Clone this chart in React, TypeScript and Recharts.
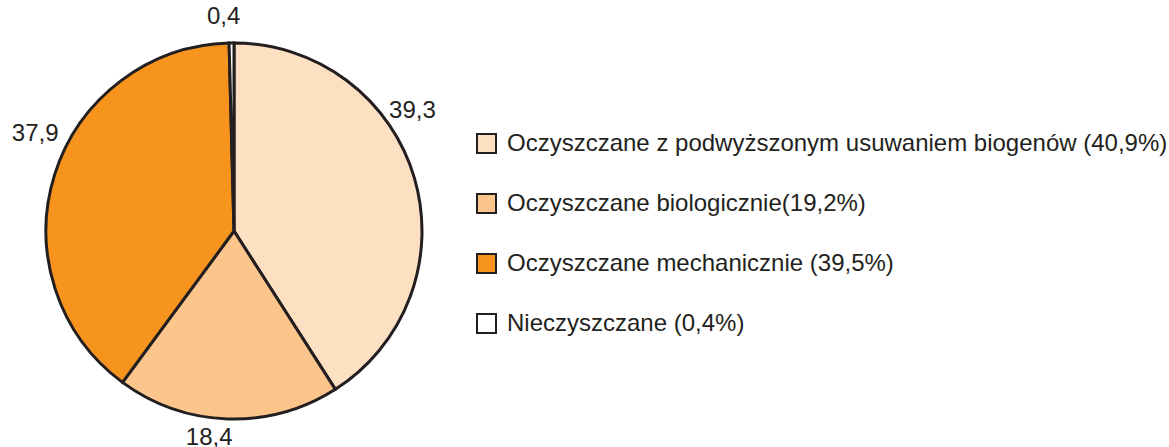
import { Cell, Pie, PieChart } from "recharts";

// share of treated wastewater by method, values as printed next to slices
const categories = [
  "Oczyszczane z podwyższonym usuwaniem biogenów",
  "Oczyszczane biologicznie",
  "Oczyszczane mechanicznie",
  "Nieczyszczane",
];
const sliceValues = [39.3, 18.4, 37.9, 0.4];
const sliceLabels = ["39,3", "18,4", "37,9", "0,4"];
const legendShares = ["(40,9%)", "(19,2%)", "(39,5%)", "(0,4%)"];
const legendGaps = [" ", "", " ", " "];

const colors = ["#FDDFC1", "#FCC58B", "#F7941E", "#FFFFFF"];
const ink = "#231F20";
const font = '"Liberation Sans", Arial, Helvetica, sans-serif';

// label placement tweaks: angle nudge (deg) and distance outside the rim (px)
const labelShift = [18, -5, -9, 2];
const labelGap = [28, 19, 34, 28];

const data = categories.map((name, i) => ({
  name,
  value: sliceValues[i],
  label: sliceLabels[i],
}));

const RAD = Math.PI / 180;

function renderLabel(props: any) {
  const { cx, cy, midAngle, outerRadius, index } = props;
  const a = (midAngle + labelShift[index]) * RAD;
  const r = outerRadius + labelGap[index];
  const x = cx + r * Math.cos(a);
  const y = cy - r * Math.sin(a);
  return (
    <text
      x={x}
      y={y}
      fill={ink}
      fontSize={24}
      fontFamily={font}
      textAnchor="middle"
      dominantBaseline="central"
    >
      {sliceLabels[index]}
    </text>
  );
}

function LegendBox() {
  return (
    <div
      style={{
        position: "absolute",
        left: 476,
        top: 113,
        fontFamily: font,
        fontSize: 24,
        color: ink,
      }}
    >
      {categories.map((name, i) => (
        <div
          key={name}
          style={{ display: "flex", alignItems: "center", height: 60 }}
        >
          <span
            style={{
              display: "inline-block",
              width: 17,
              height: 17,
              background: colors[i],
              border: `2px solid ${ink}`,
              marginRight: 10,
            }}
          />
          <span style={{ whiteSpace: "nowrap" }}>
            {name}
            {legendGaps[i]}
            {legendShares[i]}
          </span>
        </div>
      ))}
    </div>
  );
}

export default function App() {
  return (
    <div
      style={{
        position: "absolute",
        left: 0,
        top: 0,
        width: 1169,
        height: 447,
        background: "#fff",
      }}
    >
      <PieChart
        width={1169}
        height={447}
        margin={{ top: 0, right: 0, bottom: 0, left: 0 }}
      >
        <Pie
          data={data}
          dataKey="value"
          nameKey="name"
          cx={234}
          cy={231}
          outerRadius={188}
          startAngle={90}
          endAngle={-270}
          stroke={ink}
          strokeWidth={3}
          label={renderLabel}
          labelLine={false}
          isAnimationActive={false}
        >
          {data.map((d, i) => (
            <Cell key={d.name} fill={colors[i]} />
          ))}
        </Pie>
      </PieChart>
      <LegendBox />
    </div>
  );
}
